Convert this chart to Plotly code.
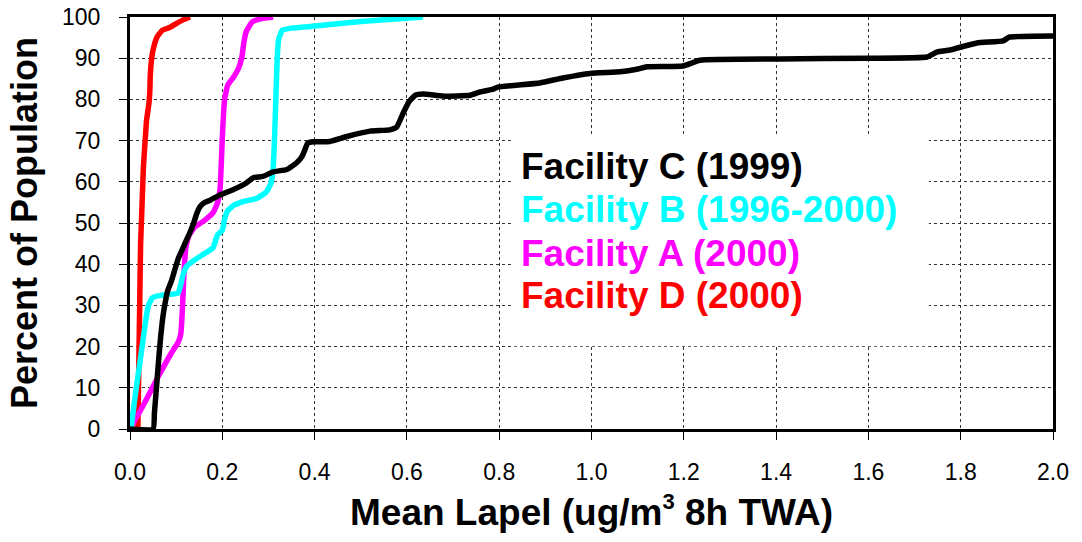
import plotly.graph_objects as go

# Facility D (2000) - red
d_x = [0.017, 0.019, 0.021, 0.023, 0.025, 0.029, 0.034, 0.036, 0.041, 0.043, 0.044, 0.047, 0.050, 0.058, 0.070, 0.087, 0.100, 0.115, 0.130]
d_y = [0, 15, 30, 45, 51, 63.5, 72, 75, 79, 82, 86, 90, 92, 95, 96.8, 97.5, 98.4, 99.3, 100]

# Facility A (2000) - magenta
a_x = [0.0, 0.03, 0.06, 0.09, 0.104, 0.110, 0.114, 0.117, 0.121, 0.128, 0.140, 0.160, 0.180, 0.190, 0.195, 0.198, 0.201, 0.205, 0.212, 0.225, 0.235, 0.242, 0.247, 0.252, 0.265, 0.285, 0.31]
a_y = [0, 6, 12.5, 18.5, 21, 23, 30, 38, 44, 47, 49, 50.5, 52.5, 55, 58, 65, 73, 80, 83.5, 85.5, 87.5, 90, 94, 96.5, 98.8, 99.6, 100]

# Facility B (1996-2000) - cyan
b_x = [0.002, 0.010, 0.020, 0.028, 0.035, 0.040, 0.048, 0.060, 0.080, 0.104, 0.110, 0.115, 0.123, 0.140, 0.160, 0.180, 0.186, 0.190, 0.200, 0.205, 0.212, 0.225, 0.245, 0.275, 0.295, 0.305, 0.310, 0.313, 0.316, 0.319, 0.322, 0.330, 0.350, 0.40, 0.50, 0.635]
b_y = [0, 7, 15, 21.5, 27, 30, 31.8, 32.3, 32.6, 33, 35, 37.5, 39.5, 41, 42.5, 44, 46, 47.2, 48.2, 51, 53, 54.3, 55.2, 56, 57.5, 59.5, 63, 70, 80, 90, 94.5, 96.8, 97.3, 97.8, 98.9, 100]

# Facility C (1999) - black
c_x = [0.0, 0.050, 0.053, 0.058, 0.063, 0.067, 0.071, 0.076, 0.082, 0.090, 0.098, 0.105, 0.113, 0.123, 0.131, 0.138, 0.145, 0.152, 0.162, 0.175, 0.195, 0.222, 0.252, 0.267, 0.288, 0.310, 0.340, 0.360, 0.372, 0.378, 0.385, 0.398, 0.433, 0.470, 0.520, 0.563, 0.578, 0.592, 0.605, 0.618, 0.635, 0.678, 0.737, 0.758, 0.787, 0.797, 0.888, 0.938, 0.997, 1.062, 1.098, 1.120, 1.198, 1.235, 1.408, 1.597, 1.727, 1.748, 1.777, 1.835, 1.892, 1.905, 2.0]
c_y = [0, 0, 4, 11, 18, 23, 27, 30.5, 33.7, 36, 39, 41.5, 43.5, 46, 48, 50, 52.4, 54, 55, 55.6, 56.8, 58, 59.7, 61, 61.3, 62.4, 63, 64.5, 66, 67.5, 69.4, 69.7, 69.8, 71, 72.3, 72.6, 73.3, 76.7, 79.5, 81, 81.3, 80.8, 81, 81.8, 82.5, 83, 84, 85.2, 86.3, 86.7, 87.3, 87.9, 88.1, 89.5, 89.8, 90.0, 90.3, 91.5, 92, 93.7, 94.2, 95.1, 95.4]

series_names = ["Facility C (1999)", "Facility B (1996-2000)", "Facility A (2000)", "Facility D (2000)"]
series_colors = ["#000000", "#00FFFF", "#FF00FF", "#FF0000"]

x_ticks = [0.0, 0.2, 0.4, 0.6, 0.8, 1.0, 1.2, 1.4, 1.6, 1.8, 2.0]
y_ticks = [0, 10, 20, 30, 40, 50, 60, 70, 80, 90, 100]

FONT = "Liberation Sans, Arial, sans-serif"

fig = go.Figure()
draw_order = [(d_x, d_y, 3), (a_x, a_y, 2), (b_x, b_y, 1), (c_x, c_y, 0)]
for xs, ys, idx in draw_order:
    fig.add_trace(go.Scatter(x=xs, y=ys, mode="lines", name=series_names[idx],
                             line=dict(color=series_colors[idx], width=5.5, shape="spline", smoothing=0.4),
                             cliponaxis=False, showlegend=False))

# white box behind the legend text (covers the grid)
fig.add_shape(type="rect", xref="x", yref="y", x0=0.826, x1=1.731, y0=20.1, y1=71.1,
              fillcolor="white", line=dict(width=0), layer="between")

legend_y = [63.8, 53.2, 42.7, 32.5]
for i, name in enumerate(series_names):
    fig.add_annotation(x=0.843, y=legend_y[i], xref="x", yref="y", text="<b>%s</b>" % name,
                       showarrow=False, xanchor="left", yanchor="middle",
                       font=dict(family=FONT, size=37, color=series_colors[i]))

axis_common = dict(showline=True, linecolor="black", linewidth=3, mirror=True,
                   ticks="outside", ticklen=8, tickwidth=1, tickcolor="black",
                   showgrid=True, gridcolor="#333333", gridwidth=1, griddash="dot",
                   zeroline=False, automargin=False,
                   tickfont=dict(family=FONT, size=23, color="black"))

fig.update_xaxes(range=[0, 2], tickvals=x_ticks, ticktext=["%.1f" % v for v in x_ticks],
                 ticklabelstandoff=12,
                 title=dict(text="<b>Mean Lapel (ug/m<sup><span style='font-size:22px'>3</span></sup> 8h TWA)</b>",
                            font=dict(family=FONT, size=37, color="black"), standoff=16),
                 **axis_common)
fig.update_yaxes(range=[0, 100], tickvals=y_ticks, ticktext=[str(v) for v in y_ticks],
                 ticklabelstandoff=14,
                 title=dict(text="<b>Percent of Population</b>",
                            font=dict(family=FONT, size=36, color="black"), standoff=14),
                 **axis_common)

fig.update_layout(width=1082, height=542, margin=dict(l=130, r=29, t=17, b=113),
                  plot_bgcolor="white", paper_bgcolor="white",
                  font=dict(family=FONT, color="black"))

fig.write_html("out.html")
